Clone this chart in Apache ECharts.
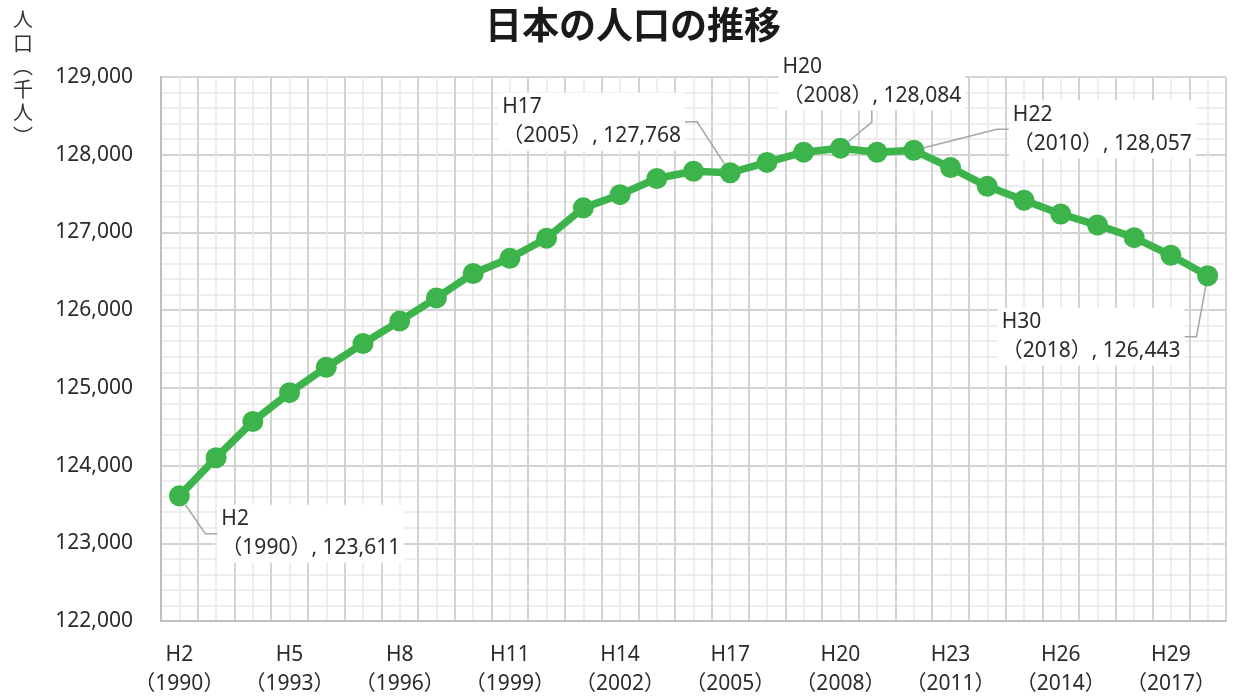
<!DOCTYPE html>
<html>
<head>
<meta charset="UTF-8">
<title>日本の人口の推移</title>
<script src="https://cdn.jsdelivr.net/npm/echarts@6/dist/echarts.min.js"></script>
<style>
  html, body { margin: 0; padding: 0; background: #fff; }
  #chart { width: 1236px; height: 699px; }
</style>
</head>
<body>
<div id="chart"></div>
<script>
var heisei = ['H2', 'H3', 'H4', 'H5', 'H6', 'H7', 'H8', 'H9', 'H10', 'H11',
              'H12', 'H13', 'H14', 'H15', 'H16', 'H17', 'H18', 'H19', 'H20', 'H21',
              'H22', 'H23', 'H24', 'H25', 'H26', 'H27', 'H28', 'H29', 'H30'];
var years = [1990, 1991, 1992, 1993, 1994, 1995, 1996, 1997, 1998, 1999,
             2000, 2001, 2002, 2003, 2004, 2005, 2006, 2007, 2008, 2009,
             2010, 2011, 2012, 2013, 2014, 2015, 2016, 2017, 2018];
// 人口（千人）
var population = [123611, 124101, 124567, 124938, 125265, 125570, 125859, 126157, 126472, 126667,
                  126926, 127316, 127486, 127694, 127787, 127768, 127901, 128033, 128084, 128032,
                  128057, 127834, 127593, 127414, 127237, 127095, 126933, 126706, 126443];
var calloutIndex = [0, 15, 18, 20, 28];

// ラベル位置（点からのずれ, px）
var calloutOffset = { 0: [38, 38], 15: [-232, -51], 18: [-62, -67], 20: [95, -21], 28: [-210, 61] };

var font = '"Noto Sans", "Noto Sans CJK JP", sans-serif';
var cjkFont = '"Noto Sans CJK JP", sans-serif';
var green = '#3cb44b';

var chart = echarts.init(document.getElementById('chart'));

var seriesData = population.map(function (v, i) {
    if (calloutIndex.indexOf(i) >= 0) {
        return { value: v, label: { show: true }, labelLine: { show: true } };
    }
    return v;
});

var option = {
    animation: false,
    backgroundColor: '#fff',
    title: [
        {
            text: '日本の人口の推移',
            left: 480, top: 1,
            textStyle: { fontFamily: cjkFont, fontSize: 37, fontWeight: 'bold', color: '#1a1a1a' }
        },
        {
            text: '人\n口\n︵\n千\n人\n︶',
            left: 8, top: 3,
            textStyle: { fontFamily: cjkFont, fontSize: 20, fontWeight: 'normal', color: '#333', lineHeight: 23.3 }
        }
    ],
    grid: { left: 161, right: 10, top: 77, bottom: 76, containLabel: false },
    xAxis: [
        {
            type: 'category',
            data: heisei,
            boundaryGap: true,
            axisLine: { show: true, lineStyle: { color: '#bfbfbf', width: 2 } },
            axisTick: { show: false },
            splitLine: { show: false },
            axisLabel: {
                interval: 2,
                margin: 20,
                fontFamily: font,
                fontSize: 21,
                lineHeight: 29,
                color: '#2b2b2b',
                formatter: function (value, index) {
                    return value + '\n（' + years[index] + '）';
                }
            }
        },
        {
            // グリッド線用
            type: 'value',
            position: 'top',
            min: 0, max: 29, interval: 1,
            axisLine: { show: false },
            axisTick: { show: false },
            axisLabel: { show: false },
            splitLine: { show: true, lineStyle: { color: '#d3d3d3', width: 2 } },
            minorTick: { show: false, splitNumber: 2 },
            minorSplitLine: { show: true, lineStyle: { color: '#e9e9e9', width: 1.5 } }
        }
    ],
    yAxis: {
        type: 'value',
        min: 122000, max: 129000, interval: 1000,
        axisLine: { show: true, lineStyle: { color: '#bfbfbf', width: 2 } },
        axisTick: { show: false },
        axisLabel: {
            margin: 28,
            fontFamily: font,
            fontSize: 21,
            color: '#2b2b2b',
            formatter: function (v) { return v.toLocaleString('en-US'); }
        },
        splitLine: { show: true, lineStyle: { color: '#d3d3d3', width: 2 } },
        minorTick: { show: false, splitNumber: 5 },
        minorSplitLine: { show: true, lineStyle: { color: '#e9e9e9', width: 1.5 } }
    },
    series: [{
        type: 'line',
        xAxisIndex: 0,
        data: seriesData,
        symbol: 'circle',
        symbolSize: 21,
        lineStyle: { color: green, width: 7.5 },
        itemStyle: { color: green },
        label: {
            show: false,
            fontFamily: font,
            fontSize: 21,
            lineHeight: 29,
            color: '#2b2b2b',
            backgroundColor: '#fff',
            padding: [0, 4],
            formatter: function (p) {
                return heisei[p.dataIndex] + '\n（' + years[p.dataIndex] + '）, ' +
                    p.value.toLocaleString('en-US');
            }
        },
        labelLine: {
            show: false,
            length2: 12,
            lineStyle: { color: '#a6a6a6', width: 1.5 }
        },
        labelLayout: function (params) {
            var o = calloutOffset[params.dataIndex];
            if (!o) return;
            var cx = params.rect.x + params.rect.width / 2;
            var cy = params.rect.y + params.rect.height / 2;
            return { x: cx + o[0], y: cy + o[1], align: 'left', verticalAlign: 'middle' };
        }
    }]
};

chart.setOption(option);
</script>
</body>
</html>
